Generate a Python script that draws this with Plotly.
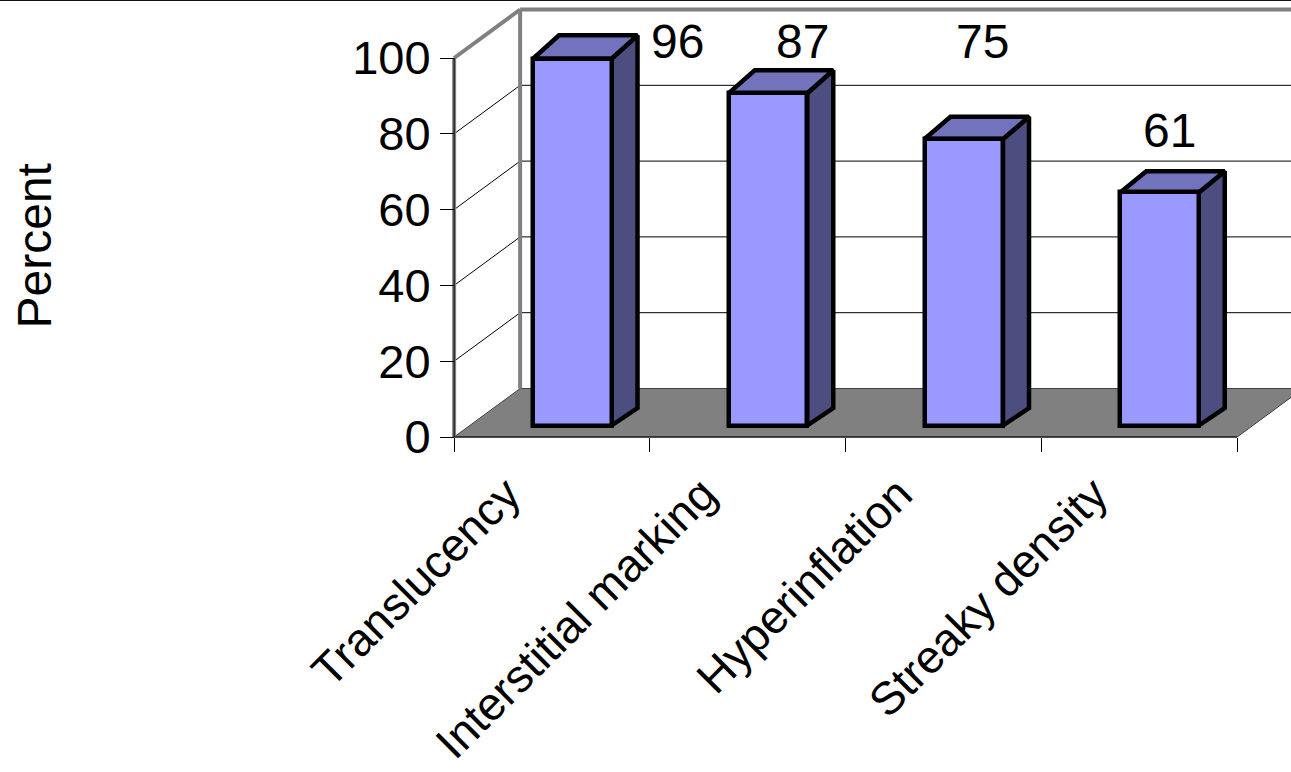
import plotly.graph_objects as go

# ---------------- data ----------------
categories = ["Translucency", "Interstitial marking", "Hyperinflation", "Streaky density"]
values = [96, 87, 75, 61]
y_ticks = [0, 20, 40, 60, 80, 100]
y_title = "Percent"

# ---------------- layout geometry (pixels of the 3-D frame) ----------------
W, H = 1291, 772
CAT0_PX, CAT_STEP_PX = 552.0, 195.75      # category 0 centre, spacing on the front plane
Y0_PX, Y_STEP_PX = 437.0, 3.79            # value 0 on front plane, px per unit
B0_PX, B_STEP_PX = 425.5, 3.82            # value 0 on the bar plane, px per unit

xr = [(0 - CAT0_PX) / CAT_STEP_PX, (W - CAT0_PX) / CAT_STEP_PX]
yr = [(Y0_PX - H) / Y_STEP_PX, Y0_PX / Y_STEP_PX]
y2r = [(B0_PX - H) / B_STEP_PX, B0_PX / B_STEP_PX]

WALL_DX = 66 / CAT_STEP_PX
WALL_DY = 48.5 / Y_STEP_PX
BAR_OFF, BAR_W = -0.097, 0.401
BAR_DX = 26 / CAT_STEP_PX
BACK_SCALE, BACK_LIFT = 1.0163, 17.5 / B_STEP_PX
# data-label placement (offset from category centre, height on bar plane)
LABEL_DX = [0.639, 0.282, 0.197, 0.157]
LABEL_Y = [100.4, 100.4, 100.4, 77.1]

FONT = "Liberation Sans, Arial, sans-serif"
FRONT, TOP, SIDE = "#9999FF", "#7373BD", "#4D4D80"
WALLC, FLOORC = "#808080", "#808080"

x_left, x_right = -0.5, len(categories) - 0.5
vmax = y_ticks[-1]

shapes = []
# floor
shapes.append(dict(type="path", xref="x", yref="y", layer="below",
                   path=f"M{x_left},0 L{x_right},0 L{x_right+WALL_DX},{WALL_DY} L{x_left+WALL_DX},{WALL_DY} Z",
                   fillcolor=FLOORC, line=dict(color="#404040", width=1)))
# gridlines on side wall and back wall
for v in y_ticks[1:-1]:
    shapes.append(dict(type="line", xref="x", yref="y", layer="below",
                       x0=x_left, y0=v, x1=x_left + WALL_DX, y1=v + WALL_DY,
                       line=dict(color="#000000", width=1)))
    shapes.append(dict(type="line", xref="x", yref="y", layer="below",
                       x0=x_left + WALL_DX, y0=v + WALL_DY, x1=x_right + WALL_DX + 0.2, y1=v + WALL_DY,
                       line=dict(color="#000000", width=1)))
# wall edges (grey)
wall_edges = [
    (x_left, 0, x_left, vmax),
    (x_left, vmax, x_left + WALL_DX, vmax + WALL_DY),
    (x_left + WALL_DX, WALL_DY, x_left + WALL_DX, vmax + WALL_DY),
    (x_left + WALL_DX, vmax + WALL_DY, x_right + WALL_DX + 0.2, vmax + WALL_DY),
]
for (a, b, c, d) in wall_edges:
    shapes.append(dict(type="line", xref="x", yref="y", layer="below",
                       x0=a, y0=b, x1=c, y1=d, line=dict(color=WALLC, width=4)))
# front axis lines
shapes.append(dict(type="line", xref="x", yref="y", layer="below",
                   x0=x_left, y0=0, x1=x_left, y1=vmax, line=dict(color="#000000", width=1)))
shapes.append(dict(type="line", xref="x", yref="y", layer="below",
                   x0=x_left, y0=0, x1=x_right, y1=0, line=dict(color="#000000", width=1)))
# frame line at top of picture
shapes.append(dict(type="line", xref="paper", yref="paper", x0=0, x1=1, y0=1, y1=1,
                   line=dict(color="#111111", width=2)))

fig = go.Figure()
fig.add_trace(go.Bar(x=categories, y=values, base=0, offset=BAR_OFF, width=BAR_W,
                     xaxis="x2", yaxis="y2",
                     marker=dict(color=FRONT, line=dict(color="black", width=4.5)),
                     hoverinfo="skip", showlegend=False))

def back(v):
    return v * BACK_SCALE + BACK_LIFT

for i, v in enumerate(values):
    xl = i + BAR_OFF
    xrt = xl + BAR_W
    # side face
    fig.add_trace(go.Scatter(x=[xrt, xrt, xrt + BAR_DX, xrt + BAR_DX, xrt],
                             y=[0, v, back(v), back(0), 0],
                             xaxis="x", yaxis="y2", mode="lines", fill="toself",
                             fillcolor=SIDE, line=dict(color="black", width=4.5),
                             hoverinfo="skip", showlegend=False))
    # top face
    fig.add_trace(go.Scatter(x=[xl, xrt, xrt + BAR_DX, xl + BAR_DX, xl],
                             y=[v, v, back(v), back(v), v],
                             xaxis="x", yaxis="y2", mode="lines", fill="toself",
                             fillcolor=TOP, line=dict(color="black", width=4.5),
                             hoverinfo="skip", showlegend=False))

annotations = []
for i, v in enumerate(values):
    annotations.append(dict(x=i + LABEL_DX[i], y=LABEL_Y[i], xref="x", yref="y2",
                            text=str(v), showarrow=False, xanchor="center", yanchor="middle",
                            font=dict(family=FONT, size=48, color="black")))
annotations.append(dict(x=34 / W, y=1 - 246.5 / H, xref="paper", yref="paper",
                        text=y_title, textangle=-90, showarrow=False,
                        xanchor="center", yanchor="middle",
                        font=dict(family=FONT, size=48, color="black")))

fig.update_layout(
    width=W, height=H, autosize=False,
    margin=dict(l=0, r=0, t=0, b=0, pad=0, autoexpand=False),
    paper_bgcolor="white", plot_bgcolor="white",
    showlegend=False, bargap=0,
    shapes=shapes, annotations=annotations,
    xaxis=dict(range=xr, visible=False, fixedrange=True, automargin=False),
    xaxis2=dict(type="category", categoryorder="array", categoryarray=categories,
                range=xr, overlaying="x", anchor="free", position=(H - Y0_PX) / H, side="bottom",
                tickson="boundaries", ticks="outside", ticklen=14, tickwidth=1, tickcolor="black",
                tickangle=-45, ticklabelshift=-45, ticklabelstandoff=20,
                tickfont=dict(family=FONT, size=46, color="black"), automargin=False,
                showline=False, showgrid=False, zeroline=False),
    yaxis=dict(range=yr, anchor="free", position=454 / W, side="left", automargin=False,
               tickmode="array", tickvals=y_ticks, ticks="outside", ticklen=14, tickwidth=1,
               tickcolor="black", tickfont=dict(family=FONT, size=47, color="black"),
               showline=False, showgrid=False, zeroline=False),
    yaxis2=dict(range=y2r, overlaying="y", visible=False, automargin=False),
)

fig.write_html("out.html")
